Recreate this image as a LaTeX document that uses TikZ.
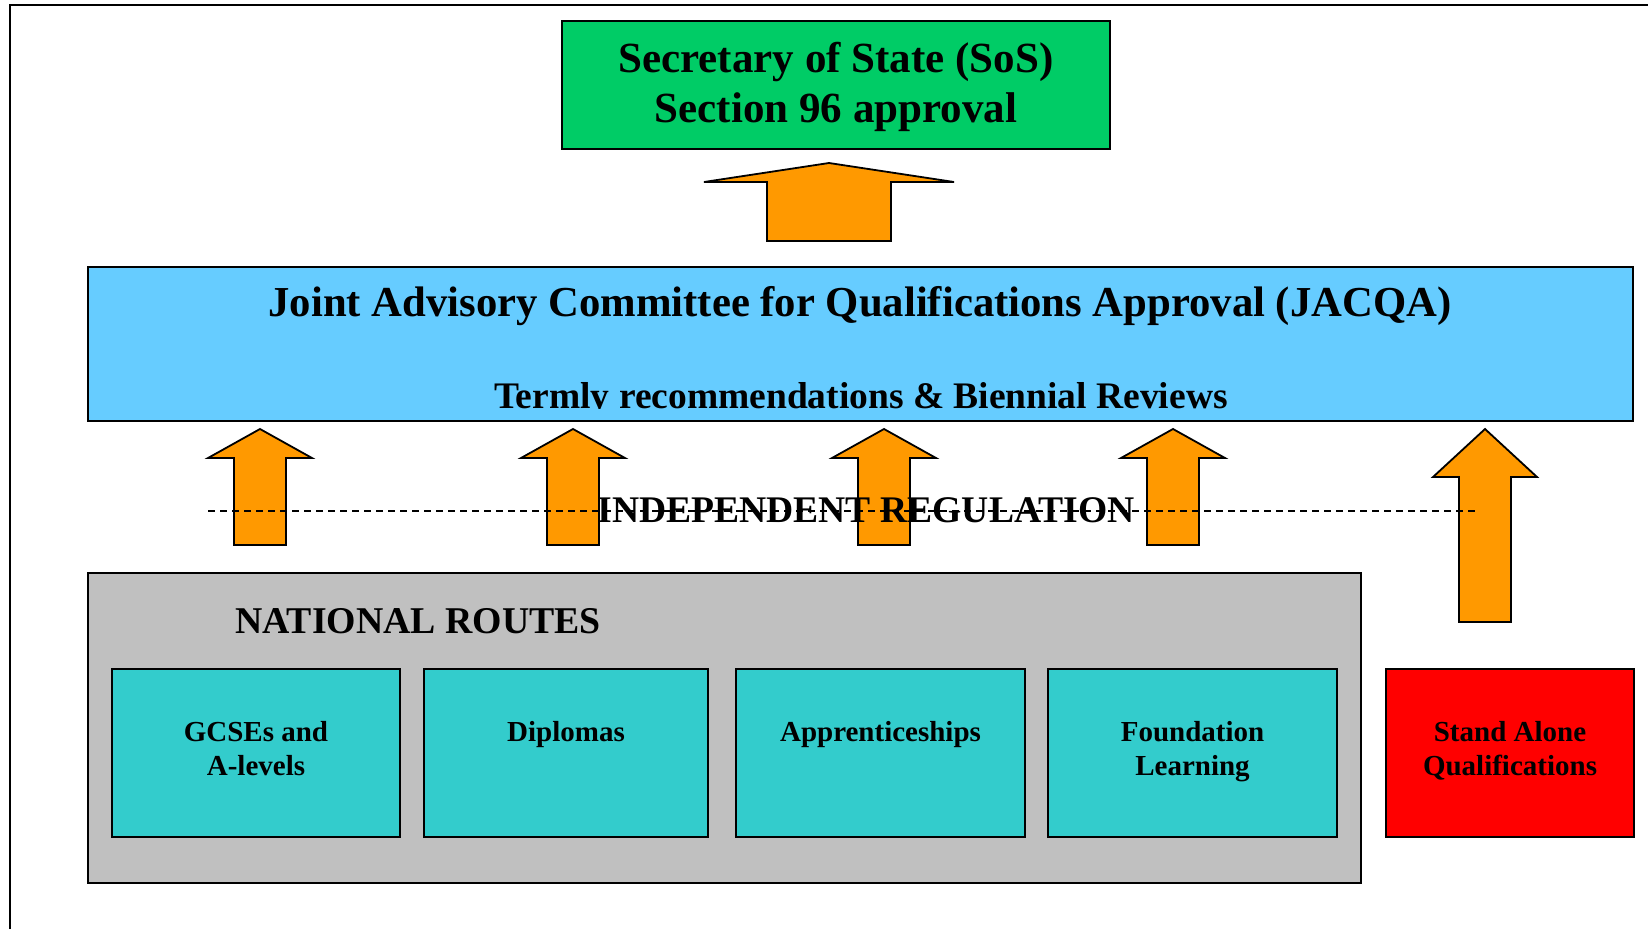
\documentclass[tikz,border=0pt]{standalone}
\usepackage{fontspec}
\setmainfont{Liberation Serif}
\definecolor{sosgreen}{RGB}{0,204,102}
\definecolor{jacqablue}{RGB}{102,204,255}
\definecolor{arroworange}{RGB}{255,153,0}
\definecolor{routegray}{RGB}{192,192,192}
\definecolor{routeteal}{RGB}{51,204,204}
\newcommand\blockup[6]{%
  \draw[blockarrow] (#1,#2) -- (#1+#5,#3) -- (#1+#6,#3) -- (#1+#6,#4) -- (#1-#6,#4) -- (#1-#6,#3) -- (#1-#5,#3) -- cycle;}
\begin{document}
\begin{tikzpicture}[x=1pt,y=-1pt,
  panel/.style={draw=black, line width=2pt, inner sep=0pt, outer sep=0pt, anchor=north west},
  blockarrow/.style={draw=black, line width=1.8pt, fill=arroworange, line join=miter},
  bigtxt/.style={inner sep=0pt, anchor=base, font=\bfseries\fontsize{43}{50}\selectfont},
  midtxt/.style={inner sep=0pt, anchor=base, font=\bfseries\fontsize{37.6}{44}\selectfont},
  boxtxt/.style={inner sep=0pt, anchor=base, font=\bfseries\fontsize{29}{34}\selectfont}]
\useasboundingbox (0,0) rectangle (1648,929);
\draw[line width=2pt] (9.5,929) -- (9.5,5) -- (1648,5);

% panels
\node[panel, fill=jacqablue, minimum width=1545pt, minimum height=154pt] (jacqa) at (88,267) {};
\node[panel, fill=sosgreen, minimum width=548pt, minimum height=128pt] (sos) at (562,21) {};
\node[panel, fill=routegray, minimum width=1273pt, minimum height=310pt] (routes) at (88,573) {};
\node[panel, fill=routeteal, minimum width=288pt, minimum height=168pt] (gcse) at (112,669) {};
\node[panel, fill=routeteal, minimum width=284pt, minimum height=168pt] (dipl) at (424,669) {};
\node[panel, fill=routeteal, minimum width=289pt, minimum height=168pt] (appr) at (736,669) {};
\node[panel, fill=routeteal, minimum width=289pt, minimum height=168pt] (found) at (1048,669) {};
\node[panel, fill=red, minimum width=248pt, minimum height=168pt] (stand) at (1386,669) {};

% arrows
\blockup{829}{163}{182}{241}{125}{62}
\blockup{260}{429}{458}{545}{52}{26}
\blockup{573}{429}{458}{545}{52}{26}
\blockup{884}{429}{458}{545}{52}{26}
\blockup{1173}{429}{458}{545}{52}{26}
\blockup{1485}{429}{477}{622}{52}{26}

% texts
\node[bigtxt] (sosA) at (836,72) {Secretary of State (SoS)};
\node[bigtxt] (sosB) at (836,122) {Section 96 approval};
\node[bigtxt, font=\bfseries\fontsize{42.7}{50}\selectfont] (jtitle) at (860,316) {Joint Advisory Committee for Qualifications Approval (JACQA)};
\begin{scope}
  \clip (88,267) rectangle (1633,408.5);
  \node[midtxt, font=\bfseries\fontsize{37.5}{44}\selectfont] (jsub) at (861,408) {Termly recommendations \& Biennial Reviews};
\end{scope}
\node[midtxt] (indep) at (866,522) {INDEPENDENT REGULATION};
\node[midtxt, anchor=base west, font=\bfseries\fontsize{37.8}{44}\selectfont] (natl) at (235,633) {NATIONAL ROUTES};

\node[boxtxt] (gcseA) at (256,741) {GCSEs and};
\node[boxtxt] (gcseB) at (256,775) {A-levels};
\node[boxtxt] (diplA) at (566,741) {Diplomas};
\node[boxtxt] (apprA) at (880.5,741) {Apprenticeships};
\node[boxtxt] (foundA) at (1192.5,741) {Foundation};
\node[boxtxt] (foundB) at (1192.5,775) {Learning};
\node[boxtxt] (standA) at (1510,741) {Stand Alone};
\node[boxtxt] (standB) at (1510,775) {Qualifications};

% dashed regulation line
\coordinate (dashL) at (208,511);
\coordinate (dashR) at (1477,511);
\draw[dash pattern=on 7pt off 5pt, line width=1.6pt] (dashL) -- (dashR);
\end{tikzpicture}
\end{document}
